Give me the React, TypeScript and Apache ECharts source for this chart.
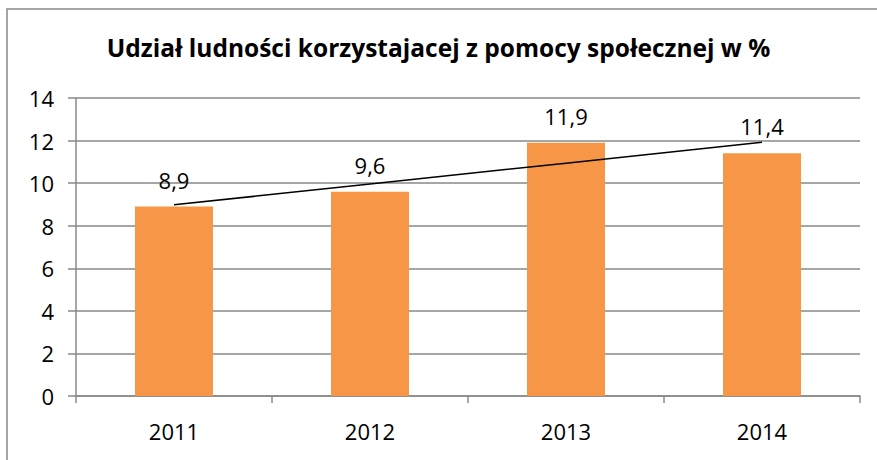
import React, { useEffect, useRef } from "react";
import * as echarts from "echarts";

const categories = ["2011", "2012", "2013", "2014"];
const values = [8.9, 9.6, 11.9, 11.4];
// linear trendline
const trendValues = [8.98, 9.96, 10.94, 11.92];
const yTicks = { min: 0, max: 14, interval: 2 };
const titleText = "Udział ludności korzystajacej z pomocy społecznej w %";

const FONT = "'Open Sans', 'Noto Sans', sans-serif";

export default function App() {
  const ref = useRef<HTMLDivElement>(null);
  useEffect(() => {
    document.body.style.margin = "0";
    const chart = echarts.init(ref.current!, null, { renderer: "svg" });
    chart.setOption({
      animation: false,
      backgroundColor: "#ffffff",
      title: {
        text: titleText,
        left: "center",
        top: 30,
        textStyle: { fontFamily: FONT, fontWeight: "bold", fontSize: 24.5, color: "#000" },
      },
      graphic: [
        {
          type: "rect",
          shape: { x: 7, y: 9, width: 1000, height: 1000 },
          style: { fill: "none", stroke: "#898989", lineWidth: 1.5 },
          silent: true,
        },
      ],
      grid: { left: 76, right: 17, top: 98, bottom: 64 },
      xAxis: {
        type: "category",
        data: categories,
        axisLine: { lineStyle: { color: "#898989", width: 1.5 } },
        axisTick: { show: true, length: 7, lineStyle: { color: "#898989", width: 1.5 } },
        axisLabel: { fontFamily: FONT, fontSize: 22, color: "#000", margin: 24 },
      },
      yAxis: {
        type: "value",
        min: yTicks.min,
        max: yTicks.max,
        interval: yTicks.interval,
        axisLine: { show: true, lineStyle: { color: "#898989", width: 1.5 } },
        axisTick: { show: true, length: 8, lineStyle: { color: "#898989", width: 1.5 } },
        splitLine: { lineStyle: { color: "#898989", width: 1.5 } },
        axisLabel: { fontFamily: FONT, fontSize: 22, color: "#000", margin: 22 },
      },
      series: [
        {
          type: "bar",
          data: values,
          barWidth: 78,
          itemStyle: { color: "#F79646" },
          label: {
            show: true,
            position: "top",
            distance: 16,
            fontFamily: FONT,
            fontSize: 22,
            color: "#000",
            formatter: (p: any) => String(p.value).replace(".", ","),
          },
          z: 2,
        },
        {
          type: "line",
          data: trendValues,
          symbol: "none",
          lineStyle: { color: "#000", width: 1.5 },
          z: 3,
        },
      ],
    });
    return () => chart.dispose();
  }, []);
  return <div ref={ref} style={{ width: 877, height: 460 }} />;
}
